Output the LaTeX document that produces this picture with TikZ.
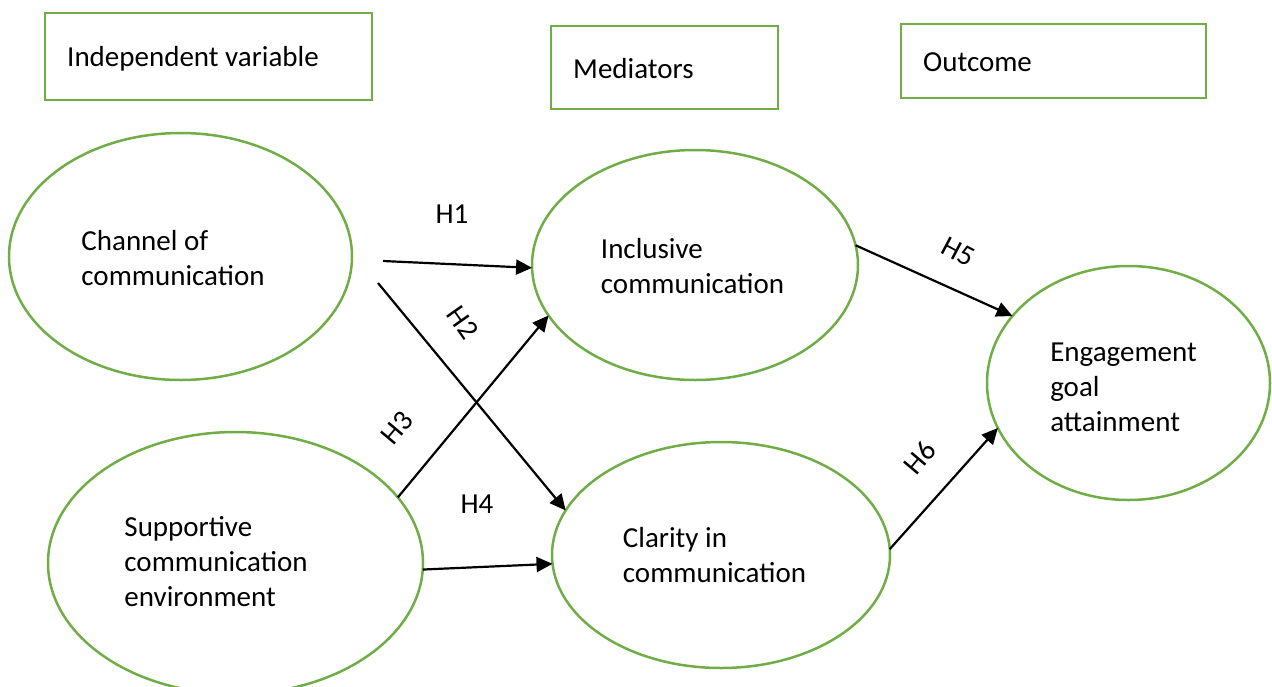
\documentclass[tikz,border=0pt]{standalone}
\usepackage{fontspec}
\setmainfont{Carlito}
\usetikzlibrary{shapes.geometric,arrows.meta,calc}
\definecolor{framegreen}{HTML}{70AD47}
\begin{document}
\begin{tikzpicture}[x=1pt,y=-1pt,
  every node/.style={font=\fontsize{29}{35}\selectfont},
  var/.style={ellipse, draw=framegreen, line width=2.5pt, inner sep=0pt, outer sep=0pt},
  lbl/.style={align=left, inner sep=0pt},
  headbox/.style={rectangle, draw=framegreen, line width=2.5pt,
    anchor=north west, inner sep=0pt, outer sep=0pt},
  headtext/.style={anchor=west, inner sep=0pt},
  link/.style={line width=2.2pt, -{Triangle[length=16pt,width=15pt]}},
  hyp/.style={inner sep=0pt}]
\useasboundingbox (0,0) rectangle (1272,686);
\clip (0,0) rectangle (1272,686);

% column headings
\node[headbox, minimum width=327pt, minimum height=87pt] (ivbox) at (45,13) {};
\node[headtext] (ivT) at ($(ivbox.west)+(22,2)$) {Independent variable};
\node[headbox, minimum width=227pt, minimum height=83pt] (medbox) at (551,26) {};
\node[headtext] (medT) at ($(medbox.west)+(22,1)$) {Mediators};
\node[headbox, minimum width=305pt, minimum height=74pt] (outbox) at (901,24) {};
\node[headtext] (outT) at ($(outbox.west)+(22,1)$) {Outcome};

% constructs
\node[var, minimum width=343pt, minimum height=247pt] (chan) at (180.5,256.5) {};
\node[lbl] (chanT) at (173,258) {Channel of\\communication};

\node[var, minimum width=375pt, minimum height=262pt] (sup) at (235.5,563) {};
\node[lbl] (supT) at (216,562) {Supportive\\communication\\environment};

\node[var, minimum width=326pt, minimum height=230pt] (inc) at (695,265) {};
\node[lbl] (incT) at (692.5,266.5) {Inclusive\\communication};

\node[var, minimum width=338pt, minimum height=226pt] (cla) at (721,555) {};
\node[lbl] (claT) at (714.5,555.5) {Clarity in\\communication};

\node[var, minimum width=283pt, minimum height=234pt] (eng) at (1128.5,383) {};
\node[lbl] (engT) at (1123.5,387) {Engagement\\goal\\attainment};

% paths
\coordinate (h1s) at (383,261);
\coordinate (h2s) at (378,283);
\draw[link] (h1s) -- (inc.181);
\draw[link] (h2s) -- (cla.164.4);
\draw[link] (sup.22.2) -- (inc.199.5);
\draw[link] (sup.358.5) -- (cla.183.5);
\draw[link] (inc.7.9) -- (eng.150.6);
\draw[link] (cla.2.7) -- (eng.199.1);

% hypothesis labels
\node[hyp] (hA) at (452,214) {H1};
\node[hyp, rotate=-55] (hB) at (463,323) {H2};
\node[hyp, rotate=50] (hC) at (397,428) {H3};
\node[hyp] (hD) at (477,504) {H4};
\node[hyp, rotate=-28] (hE) at (958,252) {H5};
\node[hyp, rotate=50] (hF) at (920,458) {H6};
\end{tikzpicture}
\end{document}
